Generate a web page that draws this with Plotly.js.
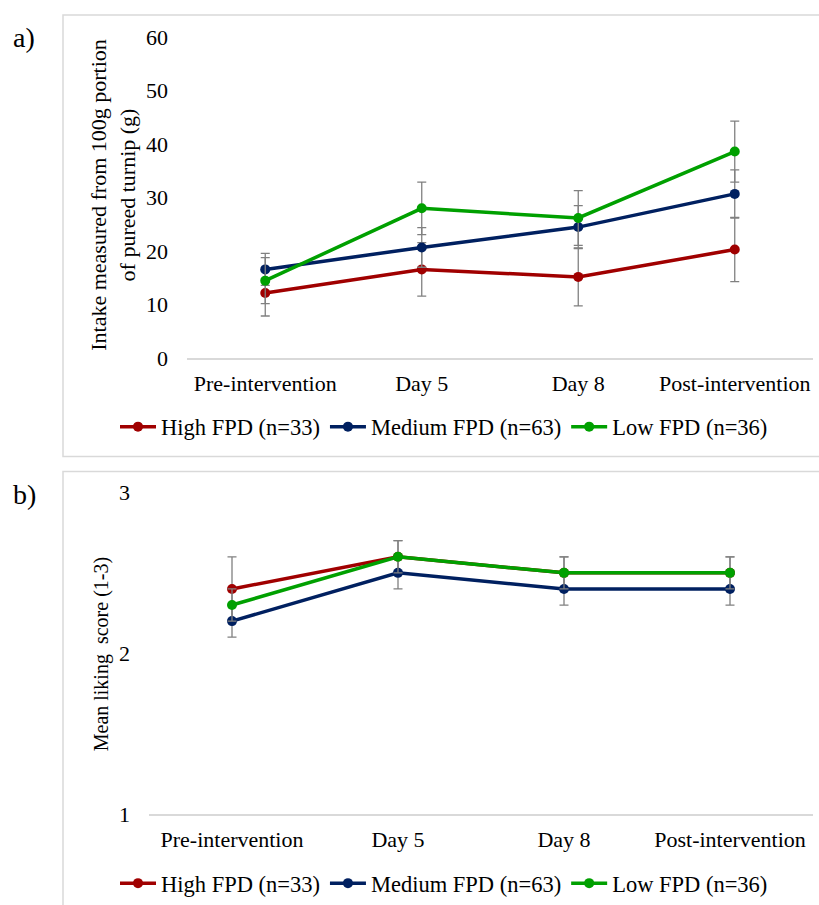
<!DOCTYPE html>
<html>
<head>
<meta charset="utf-8">
<script src="https://cdn.plot.ly/plotly-3.0.1.min.js"></script>
<style>
html,body{margin:0;padding:0;background:#fff;}
#chart{width:819px;height:905px;}
</style>
</head>
<body>
<div id="chart"></div>
<script>
const categories = ['Pre-intervention', 'Day 5', 'Day 8', 'Post-intervention'];
const seriesNames = ['High FPD (n=33)', 'Medium FPD (n=63)', 'Low FPD (n=36)'];

// Panel a: intake (g) from 100g portion of pureed turnip
const intakeHigh = [12.2, 16.6, 15.2, 20.3];
const intakeHighErr = [4.3, 5.0, 5.4, 6.0];
const intakeMedium = [16.6, 20.7, 24.5, 30.7];
const intakeMediumErr = [3.0, 3.7, 4.0, 4.5];
const intakeLow = [14.5, 28.0, 26.2, 38.6];
const intakeLowErr = [4.3, 4.9, 5.1, 5.7];

// Panel b: mean liking score (1-3)
const likingHigh = [2.4, 2.6, 2.5, 2.5];
const likingHighErr = [0.2, 0.1, 0.1, 0.1];
const likingMedium = [2.2, 2.5, 2.4, 2.4];
const likingMediumErr = [0.1, 0.1, 0.1, 0.1];
const likingLow = [2.3, 2.6, 2.5, 2.5];
const likingLowErr = [0.1, 0.1, 0.1, 0.1];

const colors = ['#A00000', '#002060', '#00A000'];
const FONT = 'Liberation Serif';
const W = 819, H = 905;
const px = v => v / W;
const py = v => 1 - v / H;

function mk(y, err, i, xa, ya, leg) {
  return {
    type: 'scatter', mode: 'lines+markers',
    x: categories, y: y, name: seriesNames[i],
    xaxis: xa, yaxis: ya, legend: leg,
    line: {color: colors[i], width: 3.5},
    marker: {color: colors[i], size: 10, line: {width: 0}},
    error_y: {type: 'data', array: err, visible: true, color: '#808080', thickness: 1.3, width: 4.5},
    cliponaxis: false
  };
}

const data = [
  mk(intakeHigh, intakeHighErr, 0, 'x', 'y', 'legend'),
  mk(intakeMedium, intakeMediumErr, 1, 'x', 'y', 'legend'),
  mk(intakeLow, intakeLowErr, 2, 'x', 'y', 'legend'),
  mk(likingHigh, likingHighErr, 0, 'x2', 'y2', 'legend2'),
  mk(likingMedium, likingMediumErr, 1, 'x2', 'y2', 'legend2'),
  mk(likingLow, likingLowErr, 2, 'x2', 'y2', 'legend2')
];

const tickFont = {family: FONT, size: 22, color: '#000'};
const xCommon = {
  type: 'category', range: [-0.5, 3.5], showgrid: false, zeroline: false,
  showline: true, linecolor: '#d9d9d9', linewidth: 1.5, ticks: '',
  tickfont: tickFont, ticklabelstandoff: 5, fixedrange: true
};
const yCommon = {
  showgrid: false, zeroline: false, showline: false, ticks: '',
  tickfont: tickFont, ticklabelstandoff: 18, fixedrange: true
};
const legCommon = {
  orientation: 'h', font: {family: FONT, size: 22.5, color: '#000'},
  xanchor: 'left', yanchor: 'middle', bgcolor: 'rgba(0,0,0,0)', itemwidth: 36,
  traceorder: 'normal'
};

const layout = {
  width: W, height: H,
  margin: {l: 0, r: 0, t: 0, b: 0},
  paper_bgcolor: '#fff', plot_bgcolor: '#fff',
  showlegend: true,
  font: {family: FONT, color: '#000', size: 22},
  xaxis: Object.assign({}, xCommon, {domain: [px(187), px(813)], anchor: 'y'}),
  yaxis: Object.assign({}, yCommon, {domain: [py(358.7), py(37)], range: [0, 60], dtick: 10, anchor: 'x'}),
  xaxis2: Object.assign({}, xCommon, {domain: [px(149), px(813)], anchor: 'y2'}),
  yaxis2: Object.assign({}, yCommon, {domain: [py(815), py(493)], range: [1, 3], dtick: 1, anchor: 'x2'}),
  legend: Object.assign({}, legCommon, {x: px(115), y: py(427)}),
  legend2: Object.assign({}, legCommon, {x: px(115), y: py(884)}),
  shapes: [
    {type: 'rect', xref: 'paper', yref: 'paper', x0: px(63), x1: px(830), y0: py(457), y1: py(15),
     line: {color: '#d9d9d9', width: 1.5}, fillcolor: 'rgba(0,0,0,0)', layer: 'below'},
    {type: 'rect', xref: 'paper', yref: 'paper', x0: px(63), x1: px(830), y0: py(915), y1: py(472),
     line: {color: '#d9d9d9', width: 1.5}, fillcolor: 'rgba(0,0,0,0)', layer: 'below'}
  ],
  annotations: [
    {text: 'a)', xref: 'paper', yref: 'paper', x: px(24), y: py(38), showarrow: false,
     xanchor: 'center', yanchor: 'middle', font: {family: FONT, size: 28, color: '#000'}},
    {text: 'b)', xref: 'paper', yref: 'paper', x: px(24), y: py(495), showarrow: false,
     xanchor: 'center', yanchor: 'middle', font: {family: FONT, size: 28, color: '#000'}},
    {text: 'Intake measured from 100g portion<br>of pureed turnip (g)', xref: 'paper', yref: 'paper',
     x: px(113), y: py(195), textangle: -90, showarrow: false, xanchor: 'center', yanchor: 'middle',
     font: {family: FONT, size: 22, color: '#000'}},
    {text: 'Mean liking  score (1-3)', xref: 'paper', yref: 'paper',
     x: px(101), y: py(655), textangle: -90, showarrow: false, xanchor: 'center', yanchor: 'middle',
     font: {family: FONT, size: 20, color: '#000'}}
  ]
};

Plotly.newPlot('chart', data, layout, {displayModeBar: false, staticPlot: true});
</script>
</body>
</html>
